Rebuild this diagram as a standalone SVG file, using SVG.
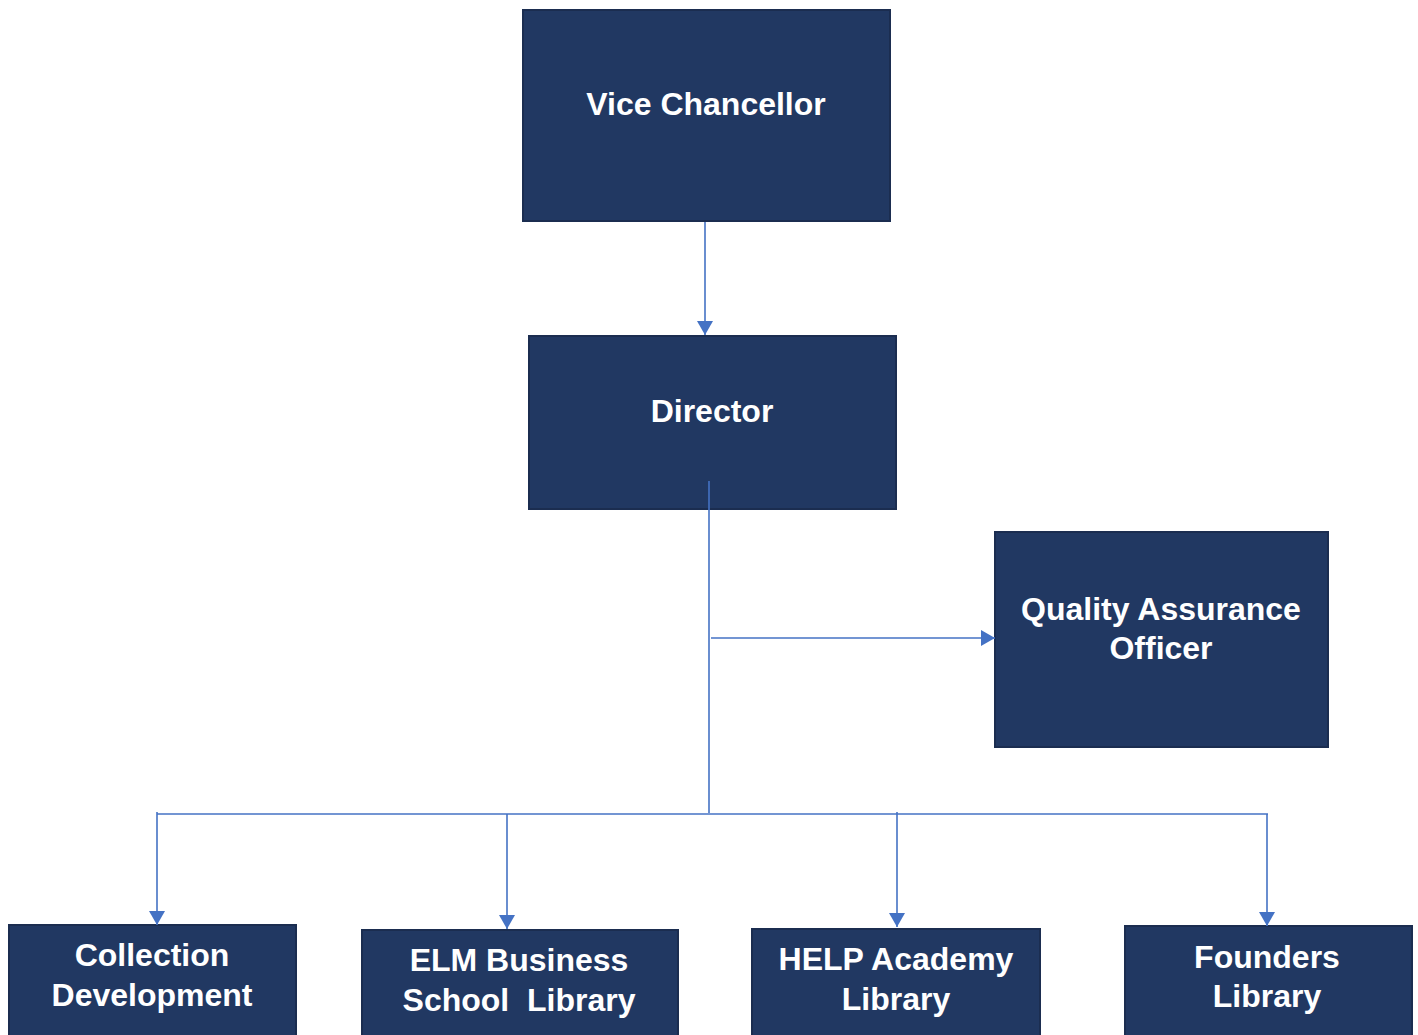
<svg xmlns="http://www.w3.org/2000/svg" width="1418" height="1035" viewBox="0 0 1418 1035">
<style>
.box{fill:#213862;stroke:#1b2d50;stroke-width:2}
.t{font-family:"Liberation Sans",Arial,sans-serif;font-weight:bold;font-size:32px;fill:#ffffff;text-anchor:middle}
.c{fill:none;stroke:#4472c4;stroke-width:1.6}
</style>
<defs>
<marker id="ah" viewBox="0 0 14 16" refX="14" refY="8" markerWidth="14" markerHeight="16" markerUnits="userSpaceOnUse" orient="auto">
<path d="M0,0 L14,8 L0,16 Z" fill="#4472c4"/>
</marker>
</defs>
<rect width="1418" height="1035" fill="#ffffff"/>
<g id="vice-chancellor">
<rect class="box" x="523" y="10" width="367" height="211"/>
<text class="t" x="706" y="115">Vice Chancellor</text>
</g>
<g id="director">
<rect class="box" x="529" y="336" width="367" height="173"/>
<text class="t" x="712" y="422">Director</text>
</g>
<g id="qa-officer">
<rect class="box" x="995" y="532" width="333" height="215"/>
<text class="t" x="1161" y="620">Quality Assurance</text>
<text class="t" x="1161" y="659">Officer</text>
</g>
<g id="collection-development">
<rect class="box" x="9" y="925" width="287" height="114"/>
<text class="t" x="152" y="966">Collection</text>
<text class="t" x="152" y="1006">Development</text>
</g>
<g id="elm-library">
<rect class="box" x="362" y="930" width="316" height="109"/>
<text class="t" x="519" y="971">ELM Business</text>
<text class="t" x="519" y="1011" xml:space="preserve">School  Library</text>
</g>
<g id="help-library">
<rect class="box" x="752" y="929" width="288" height="110"/>
<text class="t" x="896" y="970">HELP Academy</text>
<text class="t" x="896" y="1010">Library</text>
</g>
<g id="founders-library">
<rect class="box" x="1125" y="926" width="287" height="113"/>
<text class="t" x="1267" y="968">Founders</text>
<text class="t" x="1267" y="1007">Library</text>
</g>
<g id="connectors">
<line class="c" x1="705" y1="222" x2="705" y2="335" marker-end="url(#ah)"/>
<line class="c" x1="709" y1="481" x2="709" y2="813"/>
<line class="c" x1="711" y1="638" x2="995" y2="638" marker-end="url(#ah)"/>
<line class="c" x1="157" y1="814" x2="1268" y2="814"/>
<line class="c" x1="157" y1="812" x2="157" y2="925" marker-end="url(#ah)"/>
<line class="c" x1="507" y1="814" x2="507" y2="929" marker-end="url(#ah)"/>
<line class="c" x1="897" y1="812" x2="897" y2="927" marker-end="url(#ah)"/>
<line class="c" x1="1267" y1="814" x2="1267" y2="926" marker-end="url(#ah)"/>
</g>
</svg>
